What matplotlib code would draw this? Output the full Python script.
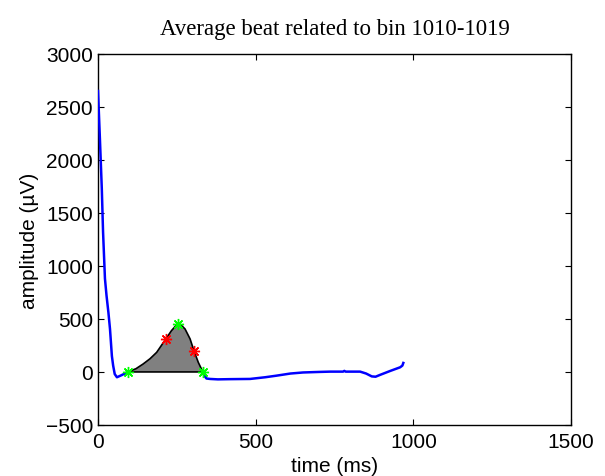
import matplotlib
matplotlib.use('Agg')
import matplotlib.pyplot as plt
import numpy as np

# averaged beat (time in ms, amplitude in uV)
time_ms = [0, 6, 12, 16, 22, 27, 33, 38, 44, 48, 53, 60, 75, 96, 120, 143, 165, 186,
           215, 233, 245, 255, 266, 276, 292, 304, 318, 332, 338, 344, 355, 380, 418,
           482, 530, 566, 610, 650, 700, 736, 777, 781, 785, 831, 850, 868, 880, 894,
           926, 958, 965, 968]
amplitude = [2650, 2200, 1730, 1320, 880, 720, 560, 405, 150, 60, -20, -50, -30, 3, 30,
             75, 125, 185, 311, 390, 430, 452, 435, 405, 311, 201, 90, 3, -40, -62, -66,
             -70, -68, -66, -50, -35, -15, -5, 0, 3, 3, 10, 3, 3, -15, -42, -45, -28,
             9, 44, 60, 85]

# fiducial points
green_t = [96, 255, 332]
green_a = [3, 452, 3]
red_t = [215, 304]
red_a = [311, 201]

t = np.array(time_ms)
a = np.array(amplitude)

fig = plt.figure(figsize=(6.05, 4.77), dpi=100)
ax = fig.add_axes([0.162, 0.107, 0.782, 0.778])

# shaded wave between onset and offset
mask = (t >= green_t[0]) & (t <= green_t[-1])
ht = t[mask]
ha = a[mask]
ax.fill(np.concatenate([ht, [ht[-1], ht[0]]]), np.concatenate([ha, [0, 0]]),
        facecolor='#808080', edgecolor='black', linewidth=1.2, zorder=2)

ax.plot(t[t <= green_t[0]], a[t <= green_t[0]], color='blue', lw=1.8, zorder=3)
ax.plot(t[t >= green_t[-1]], a[t >= green_t[-1]], color='blue', lw=1.8, zorder=3)

ast = (8, 2, 0)
ax.plot(green_t, green_a, linestyle='none', marker=ast, color='#00ff00',
        markersize=8, markeredgewidth=1, zorder=4)
ax.plot(red_t, red_a, linestyle='none', marker=ast, color='red',
        markersize=8, markeredgewidth=1, zorder=4)

ax.set_xlim(0, 1500)
ax.set_ylim(-500, 3000)
ax.set_xticks([0, 500, 1000, 1500])
ax.set_yticks(np.arange(-500, 3001, 500))
ax.tick_params(direction='in', top=True, right=True, length=4, labelsize=15)
ax.tick_params(axis='x', pad=5)
ax.tick_params(axis='y', pad=3.6)
for lab in ax.get_xticklabels() + ax.get_yticklabels():
    lab.set_family('Liberation Sans')
for s in ax.spines.values():
    s.set_linewidth(1.0)

ax.set_xlabel('time (ms)', fontsize=15, family='Liberation Sans', labelpad=3.5)
ax.set_ylabel('amplitude (\u00b5V)', fontsize=15, family='Liberation Sans', labelpad=4.5)
ax.set_title('Average beat related to bin 1010-1019', fontsize=16.5,
             family='Liberation Serif', pad=14)

fig.savefig('out.png', dpi=100)
